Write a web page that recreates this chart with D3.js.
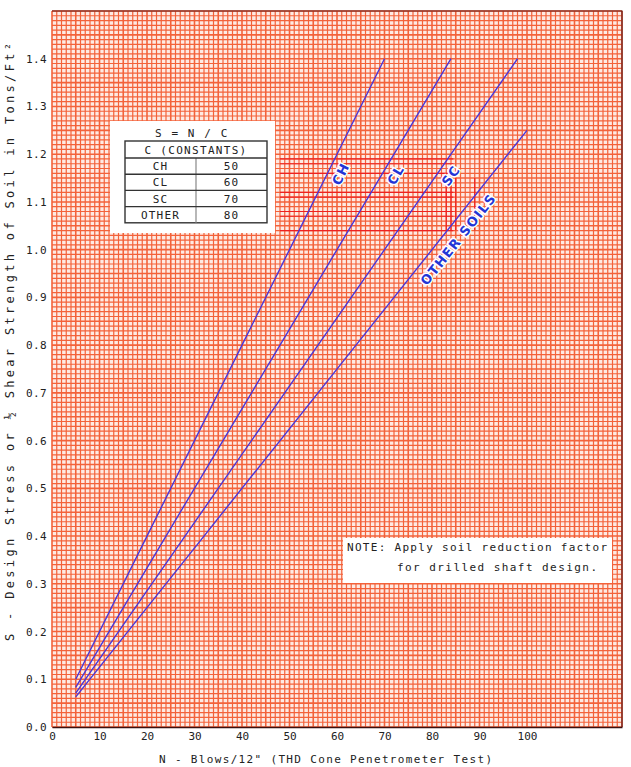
<!DOCTYPE html>
<html>
<head>
<meta charset="utf-8">
<script src="https://cdn.jsdelivr.net/npm/d3@7"></script>
<style>
  body { margin: 0; background: #fff; }
  text { font-family: "DejaVu Sans Mono", monospace; fill: #222; }
</style>
</head>
<body>
<div id="chart"></div>
<script>
// soil types and their constants, S = N / C
var soils = ["CH", "CL", "SC", "OTHER"];
var constants = [50, 60, 70, 80];
var curveNames = ["CH", "CL", "SC", "OTHER SOILS"];

// points (N blows/12", S tons/ft2)
var blowsCH = [5, 20, 40, 60, 70];
var stressCH = [0.10, 0.40, 0.80, 1.20, 1.40];
var blowsCL = [5, 24, 48, 72, 84];
var stressCL = [0.083, 0.40, 0.80, 1.20, 1.40];
var blowsSC = [5, 28, 56, 84, 98];
var stressSC = [0.071, 0.40, 0.80, 1.20, 1.40];
var blowsOT = [5, 32, 64, 100];
var stressOT = [0.063, 0.40, 0.80, 1.25];

var xTicks = [0, 10, 20, 30, 40, 50, 60, 70, 80, 90, 100];
var yTicks = [0, 0.1, 0.2, 0.3, 0.4, 0.5, 0.6, 0.7, 0.8, 0.9, 1.0, 1.1, 1.2, 1.3, 1.4];

// where each curve label sits (stress level along its curve)
var labelStress = [1.17, 1.17, 1.17, 1.04];

// the darker red lines in the scan
var hiliteS = [1.19, 1.18, 1.16, 1.12, 1.11, 1.08, 1.07, 1.04];
var hiliteN = [83, 84, 85, 89];

var width = 631, height = 767;
var mLeft = 52, mRight = 622, mTop = 11, mBottom = 727;

var svg = d3.select("#chart").append("svg")
  .attr("width", width)
  .attr("height", height);

var x = d3.scaleLinear().domain([0, 120]).range([mLeft, mRight]);
var y = d3.scaleLinear().domain([0, 1.5]).range([mBottom, mTop]);

// graph paper
svg.append("rect")
  .attr("x", mLeft).attr("y", mTop)
  .attr("width", mRight - mLeft).attr("height", mBottom - mTop)
  .attr("fill", "#feeae3");

var grid = svg.append("g").attr("stroke", "#f3623a");
grid.selectAll("line.v")
  .data(d3.range(0, 121))
  .enter().append("line")
  .attr("class", "v")
  .attr("x1", d => x(d)).attr("x2", d => x(d))
  .attr("y1", mTop).attr("y2", mBottom)
  .attr("stroke-width", d => d % 5 == 0 ? 1.6 : 1.2);
grid.selectAll("line.h")
  .data(d3.range(0, 151))
  .enter().append("line")
  .attr("class", "h")
  .attr("y1", d => y(d / 100)).attr("y2", d => y(d / 100))
  .attr("x1", mLeft).attr("x2", mRight)
  .attr("stroke-width", d => d % 5 == 0 ? 1.6 : 1.2);

var hl = svg.append("g").attr("stroke", "#ee2020").attr("stroke-width", 1.2);
hl.selectAll("line.hh")
  .data(hiliteS)
  .enter().append("line")
  .attr("x1", x(48)).attr("x2", x(84.5))
  .attr("y1", d => y(d)).attr("y2", d => y(d));
hl.selectAll("line.hv")
  .data(hiliteN)
  .enter().append("line")
  .attr("x1", d => x(d)).attr("x2", d => x(d))
  .attr("y1", y(1.15)).attr("y2", y(1.04));

// frame
svg.append("path")
  .attr("d", "M" + mLeft + "," + mTop + "H" + mRight + "V" + mBottom)
  .attr("fill", "none")
  .attr("stroke", "#5a1818")
  .attr("stroke-width", 1.2);

// axes
var xAxis = svg.append("g")
  .attr("transform", "translate(0," + mBottom + ")")
  .call(d3.axisBottom(x).tickValues(xTicks).tickSize(0).tickPadding(5));
xAxis.select(".domain").attr("stroke", "#3a1010").attr("stroke-width", 1.6);
xAxis.selectAll("text")
  .style("font-family", "DejaVu Sans Mono")
  .style("font-size", "11px")
  .attr("fill", "#222");

var yAxis = svg.append("g")
  .attr("transform", "translate(" + mLeft + ",0)")
  .call(d3.axisLeft(y).tickValues(yTicks).tickFormat(d3.format(".1f")).tickSize(0).tickPadding(5));
yAxis.select(".domain").remove();
yAxis.selectAll("text")
  .style("font-family", "DejaVu Sans Mono")
  .style("font-size", "11px")
  .style("letter-spacing", "0.4px")
  .attr("fill", "#222");

// axis titles
svg.append("text")
  .attr("x", 159).attr("y", 763)
  .attr("textLength", 333).attr("lengthAdjust", "spacing")
  .style("font-size", "11px")
  .text("N - Blows/12\" (THD Cone Penetrometer Test)");

svg.append("text")
  .attr("transform", "translate(14,342) rotate(-90)")
  .attr("text-anchor", "middle")
  .attr("textLength", 598).attr("lengthAdjust", "spacing")
  .style("font-size", "12px")
  .text("S - Design Stress or \u00bd Shear Strength of Soil in Tons/Ft\u00b2");

// curves
var series = [
  d3.zip(blowsCH, stressCH),
  d3.zip(blowsCL, stressCL),
  d3.zip(blowsSC, stressSC),
  d3.zip(blowsOT, stressOT)
];
var line = d3.line().x(d => x(d[0])).y(d => y(d[1]));

svg.append("g").selectAll("path")
  .data(series)
  .enter().append("path")
  .attr("d", line)
  .attr("fill", "none")
  .attr("stroke", "#4a36d8")
  .attr("stroke-width", 1.4);

// curve labels, rotated along each curve
series.forEach(function(pts, i) {
  var a = pts[pts.length - 2], b = pts[pts.length - 1];
  var dx = x(b[0]) - x(a[0]), dy = y(b[1]) - y(a[1]);
  var ang = Math.atan2(dy, dx);
  var s = labelStress[i];
  var n = a[0] + (s - a[1]) * (b[0] - a[0]) / (b[1] - a[1]);
  var off = i == 3 ? 14 : 12;
  var px = x(n) - off * Math.sin(ang);
  var py = y(s) + off * Math.cos(ang);
  svg.append("text")
    .attr("transform", "translate(" + px + "," + py + ") rotate(" + (ang * 180 / Math.PI) + ")")
    .attr("text-anchor", "middle")
    .attr("dy", "0.36em")
    .style("font-family", "DejaVu Sans")
    .style("font-size", "13px")
    .style("font-weight", "bold")
    .style("letter-spacing", "1.4px")
    .style("fill", "#2235d6")
    .style("stroke", "#fff")
    .style("stroke-width", 3)
    .style("paint-order", "stroke")
    .text(curveNames[i]);
});

// constants table
svg.append("rect")
  .attr("x", 110).attr("y", 121).attr("width", 165).attr("height", 112)
  .attr("fill", "#fff");
svg.append("text")
  .attr("x", 192).attr("y", 137)
  .attr("text-anchor", "middle")
  .style("font-size", "11px")
  .style("letter-spacing", "1.6px")
  .text("S = N / C");

var tx = 125, tw = 142, ty = 141, hh = 17, rh = 16.2, cx = 196;
var tbl = svg.append("g");
tbl.append("rect")
  .attr("x", tx).attr("y", ty).attr("width", tw).attr("height", hh + rh * soils.length)
  .attr("fill", "none").attr("stroke", "#333").attr("stroke-width", 1.4);
tbl.append("line")
  .attr("x1", cx).attr("x2", cx)
  .attr("y1", ty + hh).attr("y2", ty + hh + rh * soils.length)
  .attr("stroke", "#888").attr("stroke-width", 1.2);
tbl.selectAll("line.r")
  .data(soils)
  .enter().append("line")
  .attr("x1", tx).attr("x2", tx + tw)
  .attr("y1", (d, i) => ty + hh + rh * i).attr("y2", (d, i) => ty + hh + rh * i)
  .attr("stroke", "#333").attr("stroke-width", 1.4);
tbl.append("text")
  .attr("x", tx + tw / 2).attr("y", ty + hh / 2 + 4)
  .attr("text-anchor", "middle")
  .style("font-size", "11px")
  .style("letter-spacing", "1.3px")
  .text("C (CONSTANTS)");
tbl.selectAll("text.s")
  .data(soils)
  .enter().append("text")
  .attr("x", (tx + cx) / 2).attr("y", (d, i) => ty + hh + rh * i + rh / 2 + 4)
  .attr("text-anchor", "middle")
  .style("font-size", "11px")
  .style("letter-spacing", "1.2px")
  .text(d => d);
tbl.selectAll("text.c")
  .data(constants)
  .enter().append("text")
  .attr("x", (cx + tx + tw) / 2).attr("y", (d, i) => ty + hh + rh * i + rh / 2 + 4)
  .attr("text-anchor", "middle")
  .style("font-size", "11px")
  .style("letter-spacing", "1.2px")
  .text(d => d);

// note
svg.append("rect")
  .attr("x", 343).attr("y", 538).attr("width", 269).attr("height", 45)
  .attr("fill", "#fff");
svg.append("text")
  .attr("x", 347).attr("y", 551)
  .attr("textLength", 260).attr("lengthAdjust", "spacing")
  .style("font-size", "11px")
  .text("NOTE: Apply soil reduction factor");
svg.append("text")
  .attr("x", 397).attr("y", 571)
  .attr("textLength", 200).attr("lengthAdjust", "spacing")
  .style("font-size", "11px")
  .text("for drilled shaft design.");
</script>
</body>
</html>
